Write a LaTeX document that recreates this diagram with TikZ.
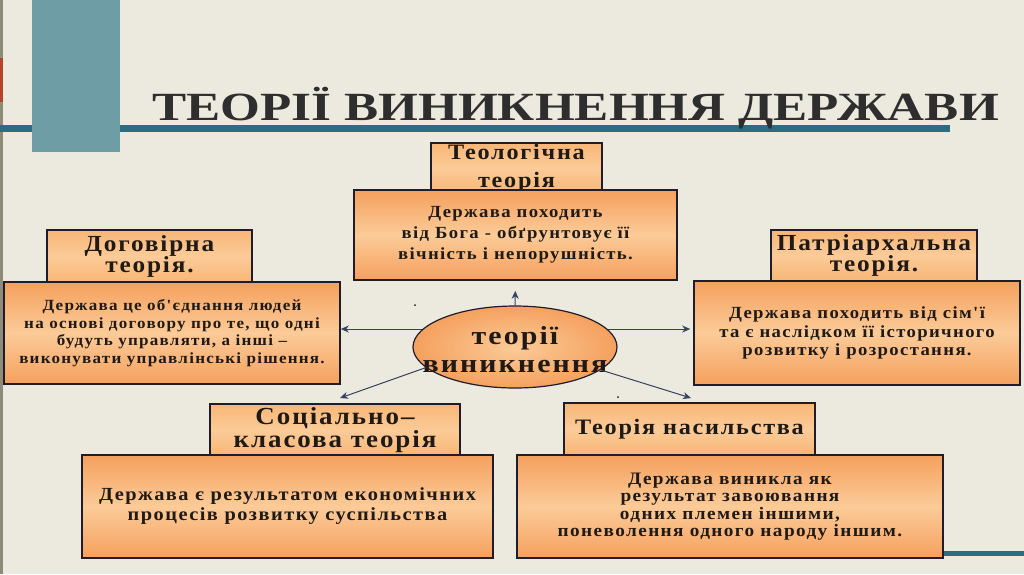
\documentclass[tikz,border=0pt]{standalone}
\usepackage{fontspec}
\setmainfont{Liberation Serif}
\newfontfamily\widef{Liberation Serif}[FakeStretch=1.1,LetterSpace=8]
\newfontfamily\ellf{Liberation Serif}[FakeStretch=1.15,LetterSpace=8]
\usetikzlibrary{shapes.geometric,arrows.meta}
\definecolor{bgc}{HTML}{ECE9DF}
\definecolor{tealbar}{HTML}{6E9DA5}
\definecolor{tealline}{HTML}{2D6C85}
\definecolor{edgeol}{HTML}{8E8B7A}
\definecolor{edgered}{HTML}{B6442A}
\definecolor{orD}{HTML}{F5A05E}
\definecolor{orL}{HTML}{FBCB98}
\definecolor{orT}{HTML}{F8B676}
\definecolor{bordc}{HTML}{1F1D2B}
\definecolor{txtc}{HTML}{1F1A16}
\definecolor{titlec}{HTML}{2E2E2E}
\definecolor{linec}{HTML}{34425E}
\tikzset{
  headbox/.style={draw=bordc, line width=1.6pt, top color=orT, bottom color=orT, middle color=orL, inner sep=0pt, align=center, text=txtc},
  bodybox/.style={draw=bordc, line width=1.6pt, top color=orD, bottom color=orD, middle color=orL, inner sep=0pt, align=center, text=txtc},
  elltext/.style={inner sep=0pt, anchor=base, text=txtc, font=\ellf\bfseries\fontsize{26}{25}\selectfont},
  conn/.style={draw=linec, line width=1pt, -{Stealth[length=8pt,width=7pt,inset=2.5pt]}}
}
\begin{document}
\begin{tikzpicture}[x=1pt,y=-1pt]
\fill[bgc] (0,0) rectangle (1024,574);
\useasboundingbox (0,0) rectangle (1024,574);
% left edge strip
\fill[edgeol] (0,0) rectangle (3,574);
\fill[edgered] (0,58) rectangle (3,102);
% decorative lines
\fill[tealline] (0,125) rectangle (950,132);
\fill[tealbar] (32,0) rectangle (120,152);
\fill[tealline] (943,551) rectangle (1024,556);
% title
\node[anchor=base west, inner sep=0pt, text=titlec, font=\bfseries\fontsize{40}{40}\selectfont] (title) at (152,120) {\scalebox{1.28}[1]{ТЕОРІЇ ВИНИКНЕННЯ ДЕРЖАВИ}};

% theological
\node[headbox, minimum width=171pt, minimum height=50pt, font=\widef\bfseries\fontsize{22}{28}\selectfont] (t1h) at (516.5,168) {Теологічна\\теорія};
\node[bodybox, minimum width=323pt, minimum height=90pt, font=\widef\bfseries\fontsize{17}{21}\selectfont] (t1b) at (515.5,235) {Держава походить\\від Бога - обґрунтовує її\\вічність і непорушність.};

% contract
\node[headbox, minimum width=205pt, minimum height=52pt, font=\widef\bfseries\fontsize{23}{21}\selectfont] (t2h) at (149.5,256) {Договірна\\теорія.};
\node[bodybox, minimum width=336pt, minimum height=102pt, font=\widef\bfseries\fontsize{15.5}{17.5}\selectfont] (t2b) at (172,333) {Держава це об'єднання людей\\на основі договору про те, що одні\\будуть управляти, а інші –\\виконувати управлінські рішення.};

% patriarchal
\node[headbox, minimum width=206pt, minimum height=51pt, font=\widef\bfseries\fontsize{23}{20}\selectfont] (t3h) at (874,255.5) {Патріархальна\\теорія.};
\node[bodybox, minimum width=326pt, minimum height=104pt, font=\widef\bfseries\fontsize{17}{18.5}\selectfont] (t3b) at (857,333) {Держава походить від сім'ї\\та є наслідком її історичного\\розвитку і розростання.};

% social-class
\node[headbox, minimum width=250pt, minimum height=52pt, font=\widef\bfseries\fontsize{24.5}{23}\selectfont] (t4h) at (335,430) {Соціально–\\класова теорія};
\node[bodybox, minimum width=411pt, minimum height=103pt, font=\widef\bfseries\fontsize{18.5}{20}\selectfont] (t4b) at (287.5,506.5) {Держава є результатом економічних\\процесів розвитку суспільства};

% violence
\node[headbox, minimum width=251pt, minimum height=52pt, font=\widef\bfseries\fontsize{22}{22}\selectfont] (t5h) at (689.5,429) {Теорія насильства};
\node[bodybox, minimum width=426pt, minimum height=103pt, font=\widef\bfseries\fontsize{17.5}{17.5}\selectfont] (t5b) at (730,506.5) {Держава виникла як\\результат завоювання\\одних племен іншими,\\поневолення одного народу іншим.};

% centre ellipse
\node[ellipse, draw=bordc, line width=1.2pt, inner color=orL, outer color=orD, minimum width=204pt, minimum height=82pt, inner sep=0pt] (ell) at (515,347) {};
\node[elltext] (elltxtA) at (515,344) {теорії};
\node[elltext] (elltxtB) at (515,372) {виникнення};

% connectors
\coordinate (cLL) at (340,398);
\coordinate (cLR) at (691,398);
\draw[conn, shorten >=10pt] (ell.north) -- (t1b.south);
\draw[conn] (ell.169) -- (ell.169 -| t2b.east);
\draw[conn, shorten >=3pt] (ell.11) -- (ell.11 -| t3b.west);
\draw[conn] (ell.193) -- (cLL);
\draw[conn] (ell.-15) -- (cLR);

% stray dots
\fill[txtc] (415,305) circle (1pt);
\fill[txtc] (618,397) circle (1pt);
\end{tikzpicture}
\end{document}
